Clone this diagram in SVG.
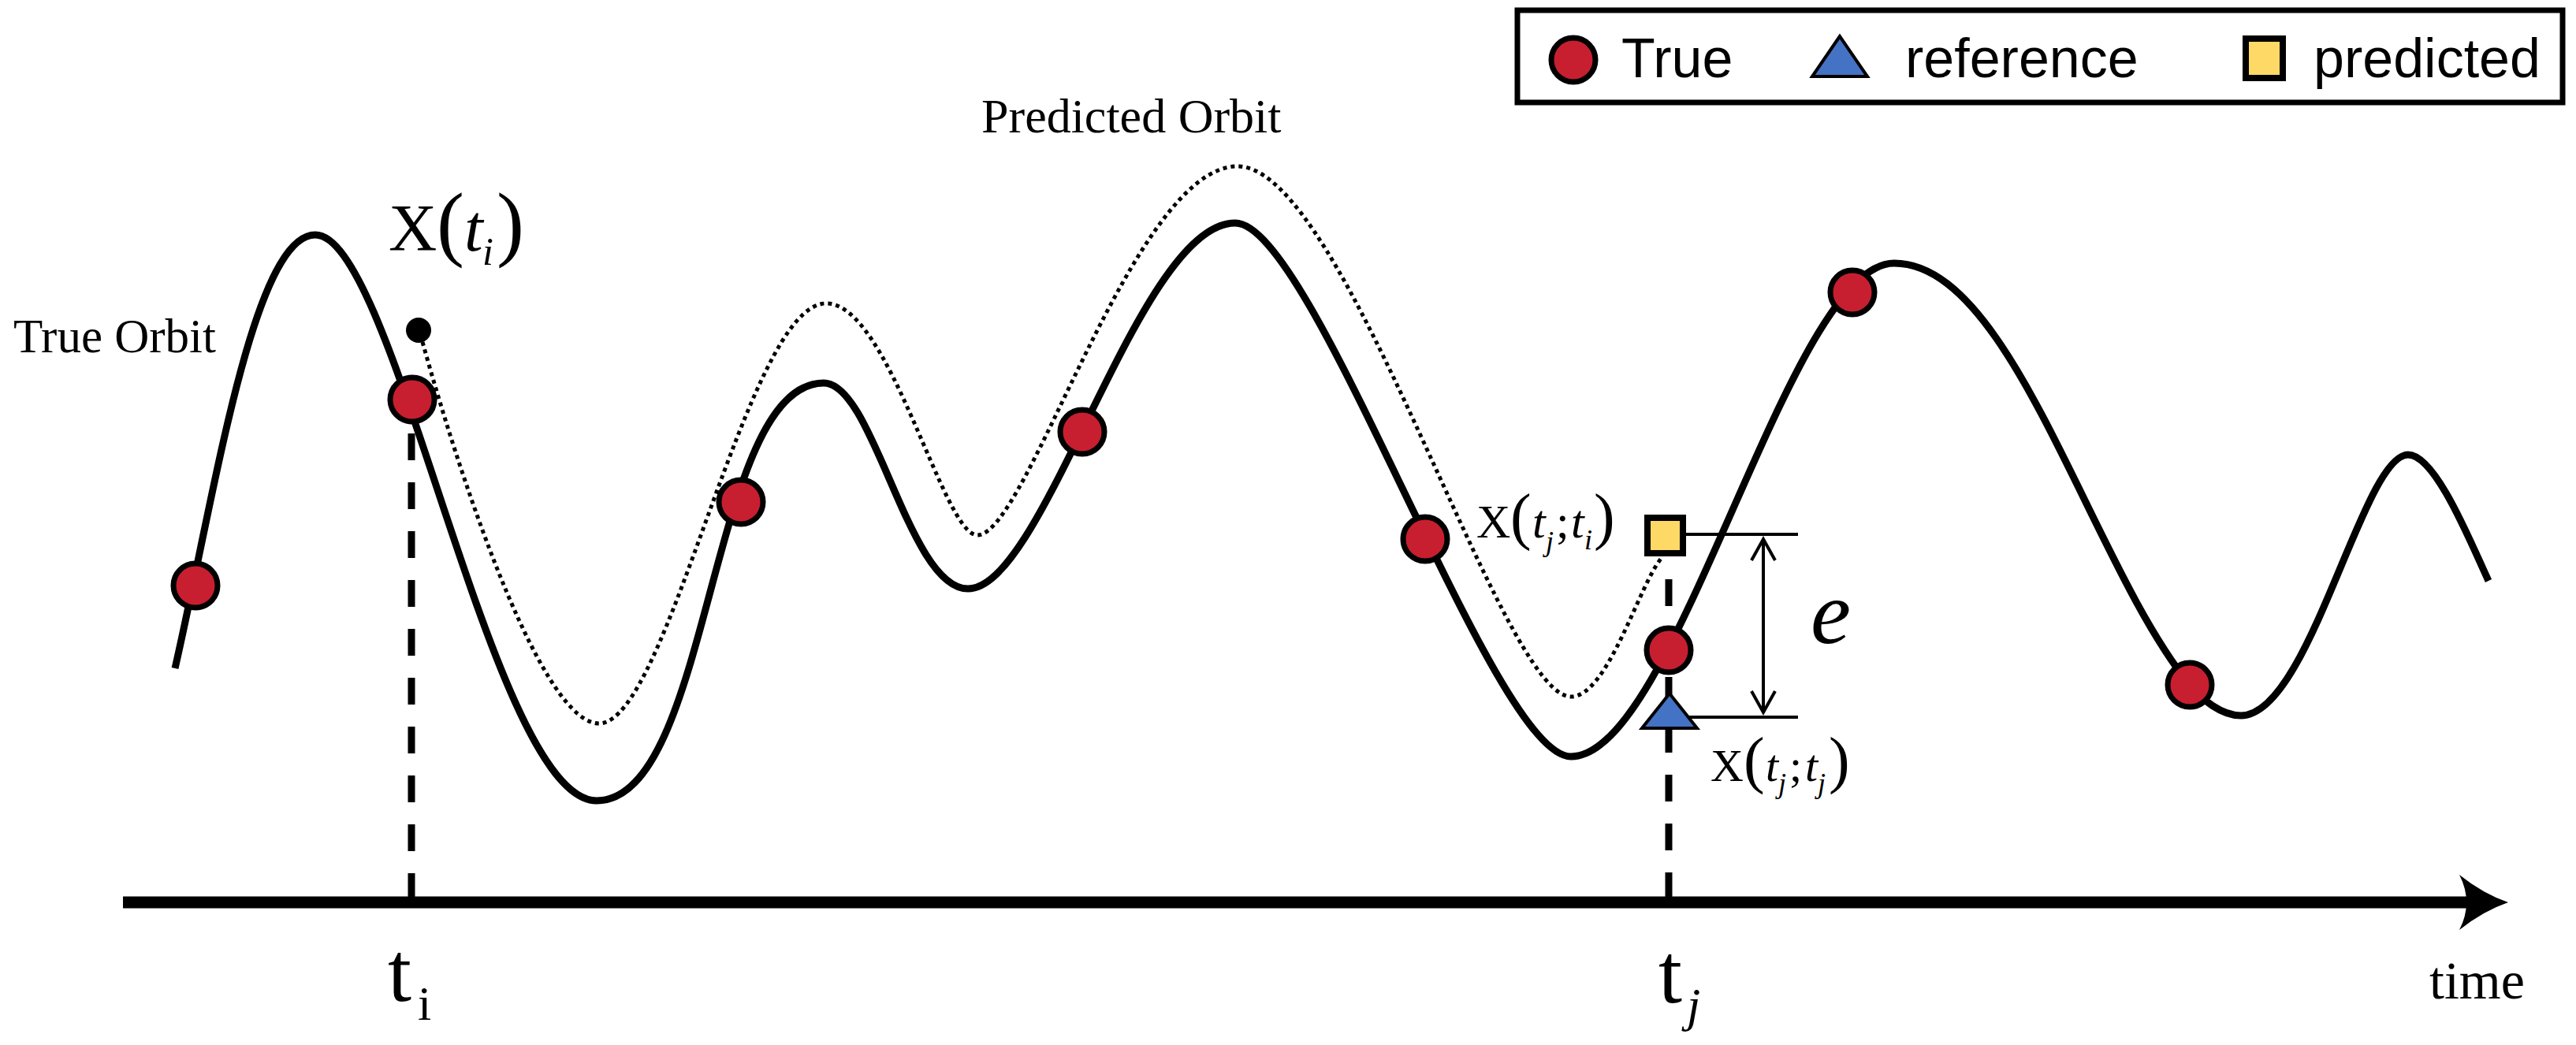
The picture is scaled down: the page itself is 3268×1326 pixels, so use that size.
<svg xmlns="http://www.w3.org/2000/svg" width="3268" height="1326" viewBox="0 0 3268 1326">
  <style>
    .serif { font-family: "Liberation Serif", "Times New Roman", serif; fill: #000; }
    .sans { font-family: "Liberation Sans", Arial, sans-serif; fill: #000; }
    .it { font-style: italic; }
    .true-pt { fill: #C71F30; stroke: #000; stroke-width: 7; }
    .ref-pt { fill: #4472C4; stroke: #000; stroke-width: 4; stroke-linejoin: miter; }
    .pred-pt { fill: #FFD966; stroke: #000; stroke-width: 8; }
    .orbit { fill: none; stroke: #000; stroke-width: 9; stroke-linecap: butt; }
    .pred-orbit { fill: none; stroke: #000; stroke-width: 5; stroke-dasharray: 5 5; }
    .vdash { stroke: #000; stroke-width: 9; stroke-dasharray: 34 28; }
    .thin { stroke: #000; stroke-width: 4; fill: none; }
  </style>
  <rect width="3268" height="1326" fill="#fff"/>

  <!-- Legend -->
  <g id="legend">
    <rect x="1925" y="13" width="1326" height="117" fill="#fff" stroke="#000" stroke-width="7"/>
    <circle class="true-pt" cx="1996" cy="76" r="28"/>
    <text class="sans" x="2057" y="98" font-size="70">True</text>
    <polygon class="ref-pt" points="2334,46 2299,97 2369,97"/>
    <text class="sans" x="2417" y="98" font-size="70">reference</text>
    <rect class="pred-pt" x="2849" y="49" width="47" height="50"/>
    <text class="sans" x="2935" y="98" font-size="70">predicted</text>
  </g>

  <!-- Connectors: orbits, guide lines, axis -->
  <g id="connectors">
    <path id="true-orbit" class="orbit" d="M222,848 C270,640 320,298 400,298 C502,298 624,1016 757,1016 C903,1016 899,486 1045,486 C1109,486 1152,747 1228,747 C1326,747 1444,283 1567,283 C1667,283 1893,960 1993,960 C2127,960 2269,334 2403,334 C2553,334 2652,715 2778,869 C2794,888 2818,908 2843,908 C2930,908 2997,577 3055,577 C3090,577 3135,690 3157,737"/>
    <path id="predicted-orbit" class="pred-orbit" d="M536,434 C591,632 690,918 760,918 C848,918 947,385 1048,385 C1129,385 1196,679 1240,679 C1304,679 1437,211 1570,211 C1708,211 1904,884 1993,884 C2040,884 2080,740 2108,708"/>
    <line id="ti-line" class="vdash" x1="522" y1="550" x2="522" y2="1145"/>
    <line id="tj-line" class="vdash" x1="2117" y1="735" x2="2117" y2="1145"/>
    <line id="err-top" class="thin" x1="2135" y1="678" x2="2281" y2="678"/>
    <line id="err-bottom" class="thin" x1="2130" y1="910" x2="2281" y2="910"/>
    <g id="err-arrow">
      <line class="thin" x1="2237" y1="684" x2="2237" y2="904" stroke-width="3"/>
      <polyline class="thin" stroke-width="3" points="2222,711 2237,684 2252,711"/>
      <polyline class="thin" stroke-width="3" points="2222,877 2237,904 2252,877"/>
    </g>
    <g id="time-axis">
      <line x1="156" y1="1145" x2="3140" y2="1145" stroke="#000" stroke-width="15"/>
      <path d="M3120,1110 Q3150,1134 3182,1145 Q3150,1156 3120,1180 Q3138,1145 3120,1110 Z" fill="#000"/>
    </g>
  </g>

  <!-- Start point of predicted orbit -->
  <g id="start-dot">
    <circle cx="531" cy="419" r="16" fill="#000"/>
  </g>

  <!-- True points -->
  <g id="true-1"><circle class="true-pt" cx="248" cy="743" r="28"/></g>
  <g id="true-2"><circle class="true-pt" cx="523" cy="507" r="28"/></g>
  <g id="true-3"><circle class="true-pt" cx="940" cy="637" r="28"/></g>
  <g id="true-4"><circle class="true-pt" cx="1373" cy="548" r="28"/></g>
  <g id="true-5"><circle class="true-pt" cx="1808" cy="684" r="28"/></g>
  <g id="true-6"><circle class="true-pt" cx="2117" cy="825" r="28"/></g>
  <g id="true-7"><circle class="true-pt" cx="2350" cy="371" r="28"/></g>
  <g id="true-8"><circle class="true-pt" cx="2778" cy="869" r="28"/></g>

  <!-- Reference and predicted points -->
  <g id="reference-point"><polygon class="ref-pt" points="2118,880 2083,924 2153,924"/></g>
  <g id="predicted-point"><rect class="pred-pt" x="2090" y="657" width="45" height="45"/></g>

  <!-- Labels -->
  <g id="labels">
    <text class="serif" x="17" y="447" font-size="61">True Orbit</text>
    <text class="serif" x="1245" y="168" font-size="62">Predicted Orbit</text>

    <text class="serif" y="318"><tspan x="493" font-size="85">X</tspan><tspan x="554" font-size="105">(</tspan><tspan class="it" x="589" font-size="85">t</tspan><tspan class="it" x="612" y="336" font-size="50">i</tspan><tspan x="630" y="318" font-size="105">)</tspan></text>

    <text class="serif" y="682"><tspan x="1873" font-size="60">X</tspan><tspan x="1916" font-size="80">(</tspan><tspan class="it" x="1944" font-size="60">t</tspan><tspan class="it" x="1961" y="699" font-size="36">j</tspan><tspan x="1974" y="682" font-size="60">;</tspan><tspan class="it" x="1993" font-size="60">t</tspan><tspan class="it" x="2010" y="697" font-size="36">i</tspan><tspan x="2022" y="682" font-size="80">)</tspan></text>

    <text class="serif" y="991"><tspan x="2170" font-size="58">X</tspan><tspan x="2212" font-size="80">(</tspan><tspan class="it" x="2240" font-size="58">t</tspan><tspan class="it" x="2256" y="1006" font-size="36">j</tspan><tspan x="2270" y="991" font-size="58">;</tspan><tspan class="it" x="2290" font-size="58">t</tspan><tspan class="it" x="2306" y="1006" font-size="36">j</tspan><tspan x="2320" y="991" font-size="80">)</tspan></text>

    <text class="serif it" x="2297" y="816" font-size="115">e</text>

    <text class="serif" y="1270"><tspan x="492" font-size="108">t</tspan><tspan x="530" y="1294" font-size="62">i</tspan></text>
    <text class="serif" y="1272"><tspan x="2104" font-size="108">t</tspan><tspan class="it" x="2140" y="1296" font-size="62">j</tspan></text>
    <text class="serif" x="3082" y="1267" font-size="68">time</text>
  </g>
</svg>
